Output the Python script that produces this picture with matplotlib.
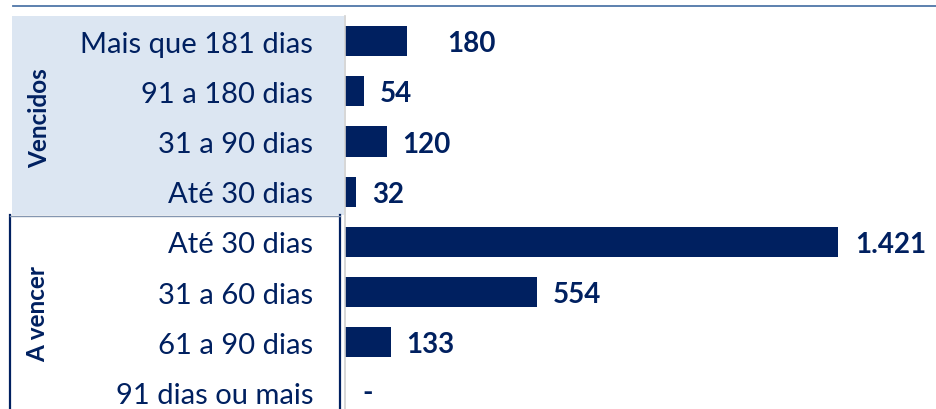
import matplotlib
matplotlib.use("Agg")
import matplotlib.pyplot as plt
from matplotlib.patches import Rectangle
from matplotlib.lines import Line2D

categories = ["Mais que 181 dias", "91 a 180 dias", "31 a 90 dias", "Até 30 dias",
              "Até 30 dias", "31 a 60 dias", "61 a 90 dias", "91 dias ou mais"]
values = [180, 54, 120, 32, 1421, 554, 133, 0]
value_labels = ["180", "54", "120", "32", "1.421", "554", "133", "-"]
group_labels = ["Vencidos", "A vencer"]

NAVY = "#002060"
LIGHT = "#dce6f2"
FONT = "Lato"
W, H = 937, 410

fig = plt.figure(figsize=(W / 100, H / 100), dpi=100)

# background axes in pixel coords for boxes / lines
bg = fig.add_axes([0, 0, 1, 1])
bg.set_xlim(0, W)
bg.set_ylim(H, 0)
bg.axis("off")
bg.add_line(Line2D([13, W], [7, 7], color="#4f76a8", lw=1.3))
bg.add_patch(Rectangle((12, 17), 332, 199, facecolor=LIGHT, edgecolor="none"))
bg.add_line(Line2D([10, 10], [216, H], color=NAVY, lw=1.6))
bg.add_line(Line2D([340, 340], [216, H], color=NAVY, lw=1.6))
bg.add_line(Line2D([10, 340], [216.5, 216.5], color="#8496b0", lw=1.0))
bg.text(40, 118, group_labels[0], rotation=90, ha="center", va="center",
        fontsize=17.5, fontweight="bold", color=NAVY, family=FONT)
bg.text(38, 314, group_labels[1], rotation=90, ha="center", va="center",
        fontsize=17.5, fontweight="bold", color=NAVY, family=FONT)

# bar axes
row = 50.2
top = 17
n = len(categories)
ax_h = n * row
ax = fig.add_axes([345 / W, (H - top - ax_h) / H, (W - 345) / W, ax_h / H])
ax.patch.set_alpha(0)
y = list(range(n))
ax.barh(y, values, height=0.6, color=NAVY)
ax.set_ylim(n - 0.5, -0.5)
ax.set_xlim(0, 1706)
ax.set_yticks(y)
ax.set_yticklabels(categories, fontsize=21, color=NAVY, family=FONT)
ax.tick_params(axis="y", length=0, pad=23)
ax.set_xticks([])
for s in ["top", "right", "bottom"]:
    ax.spines[s].set_visible(False)
ax.spines["left"].set_color("#d0d0d0")
ax.spines["left"].set_linewidth(1.2)

offsets = [40, 16, 16, 16, 17, 16, 15, 17]
for yi, v, lab, off in zip(y, values, value_labels, offsets):
    ax.annotate(lab, (v, yi), xytext=(off * 0.72, -1.5 if lab != "-" else 0),
                textcoords="offset points", ha="left", va="center",
                fontsize=20, fontweight="bold", color=NAVY, family=FONT)

fig.savefig("out.png", dpi=100)
